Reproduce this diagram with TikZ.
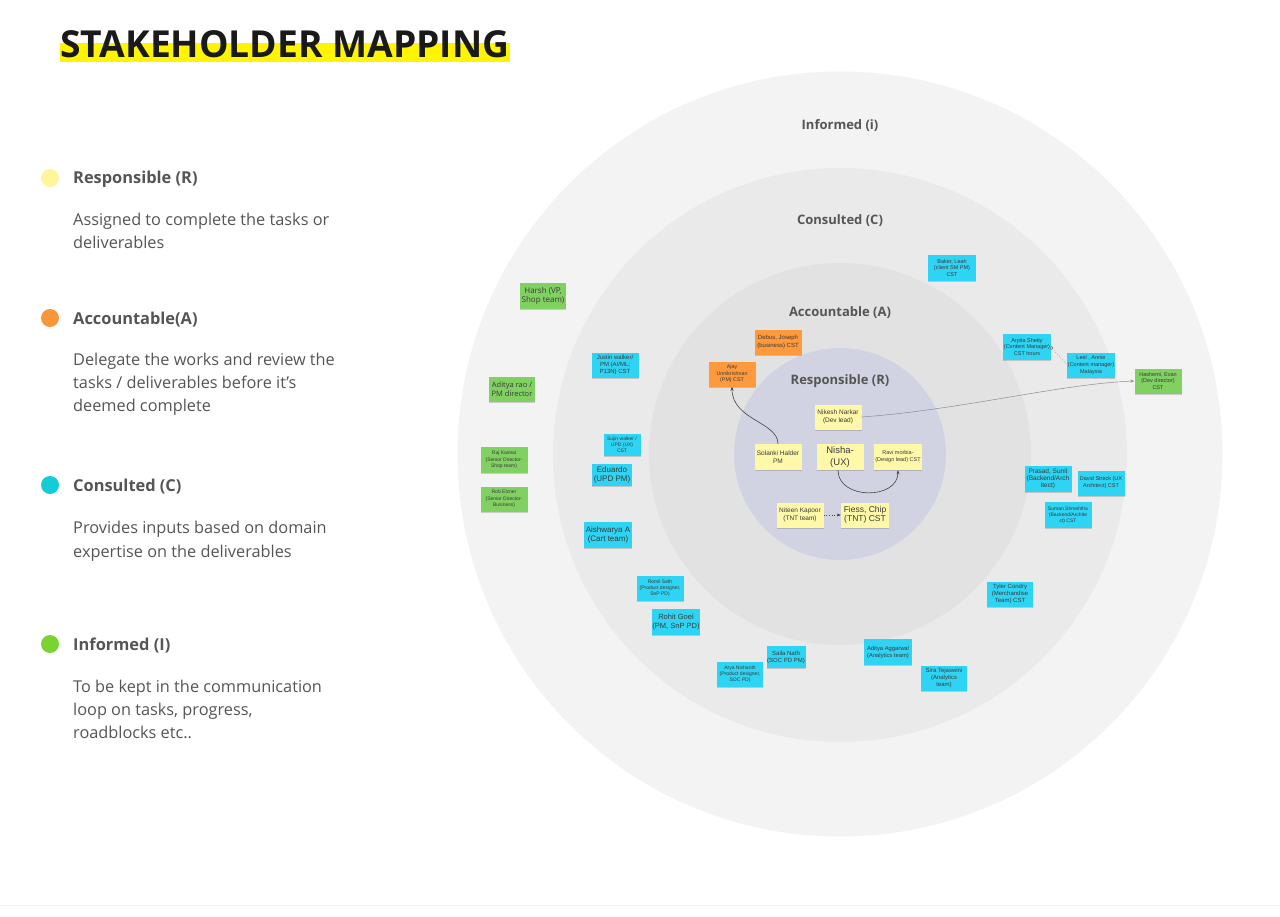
\documentclass[tikz,border=0pt]{standalone}
\usepackage{fontspec}
\setmainfont{Open Sans}
\newfontfamily\stickyfont{Liberation Sans}
\usetikzlibrary{arrows.meta,shadows}
\definecolor{ringI}{HTML}{F3F3F3}
\definecolor{ringC}{HTML}{EAEAEA}
\definecolor{ringA}{HTML}{E2E2E2}
\definecolor{ringR}{HTML}{D2D3E2}
\definecolor{stY}{HTML}{FFF8A8}
\definecolor{stO}{HTML}{FF9A3C}
\definecolor{stC}{HTML}{2ED4F3}
\definecolor{stG}{HTML}{80D162}
\definecolor{dotY}{HTML}{FFF59A}
\definecolor{dotO}{HTML}{F8963A}
\definecolor{dotC}{HTML}{14CCD8}
\definecolor{dotG}{HTML}{7AD233}
\definecolor{legtext}{HTML}{555555}
\definecolor{stickytext}{HTML}{3A3A3A}
\definecolor{titleyellow}{HTML}{FFF500}
\definecolor{titletext}{HTML}{1A1A1A}
\definecolor{connc}{HTML}{444444}
\begin{document}
\begin{tikzpicture}[x=1pt,y=-1pt,
  sticky/.style={rectangle, inner sep=0.5pt, align=center, text=stickytext,
    minimum width=47, minimum height=26,
    drop shadow={shadow xshift=0pt, shadow yshift=-1.3pt, opacity=0.16, fill=black}},
  ys/.style={sticky, fill=stY},
  os/.style={sticky, fill=stO},
  cs/.style={sticky, fill=stC},
  gs/.style={sticky, fill=stG},
  fs/.style 2 args={font=\stickyfont\fontsize{#1}{#2}\selectfont},
  fo/.style 2 args={font=\fontsize{#1}{#2}\selectfont},
  ringlabel/.style={font=\fontsize{13}{15}\selectfont\bfseries, text=legtext, anchor=base, inner sep=0},
  leghead/.style={font=\fontsize{16.4}{19}\selectfont\bfseries, text=legtext, anchor=base west, inner sep=0},
  legbody/.style={font=\fontsize{16.3}{19}\selectfont, text=legtext, anchor=base west, inner sep=0},
  conn/.style={draw=connc, line width=0.6pt, -{Stealth[length=4pt,width=3pt]}},
  lightconn/.style={draw=black!45, line width=0.5pt, -{Stealth[length=4pt,width=3pt]}}
]
\path[use as bounding box] (0,0) rectangle (1280,916);
\fill[white] (0,0) rectangle (1280,916);
\draw[black!5, line width=1pt] (0,905) -- (1280,905);

% title
\fill[titleyellow] (60,43) rectangle (510,62);
\node[anchor=base west, inner sep=0, text=titletext, font=\fontsize{37.2}{40}\selectfont\bfseries] (title) at (60,57) {STAKEHOLDER MAPPING};

% legend
\fill[dotY] (50,178) circle[radius=9pt];
\node[leghead] (hR) at (73,183) {Responsible (R)};
\node[legbody] (bR1) at (73,225) {Assigned to complete the tasks or};
\node[legbody] (bR2) at (73,248) {deliverables};

\fill[dotO] (50,318) circle[radius=9pt];
\node[leghead] (hA) at (73,324) {Accountable(A)};
\node[legbody] (bA1) at (73,365) {Delegate the works and review the};
\node[legbody] (bA2) at (73,388) {tasks / deliverables before it's};
\node[legbody] (bA3) at (73,411) {deemed complete};

\fill[dotC] (50,485) circle[radius=9pt];
\node[leghead] (hC) at (73,491) {Consulted (C)};
\node[legbody] (bC1) at (73,533) {Provides inputs based on domain};
\node[legbody] (bC2) at (73,557) {expertise on the deliverables};

\fill[dotG] (50,644) circle[radius=9pt];
\node[leghead] (hI) at (73,650) {Informed (I)};
\node[legbody] (bI1) at (73,692) {To be kept in the communication};
\node[legbody] (bI2) at (73,715) {loop on tasks, progress,};
\node[legbody] (bI3) at (73,738) {roadblocks etc..};

% rings
\fill[ringI] (840,454) circle[radius=382.5pt];
\fill[ringC] (840,455) circle[radius=287pt];
\fill[ringA] (840,454) circle[radius=191pt];
\fill[ringR] (840,454) circle[radius=106pt];

\node[ringlabel] (lI) at (840,129) {Informed (i)};
\node[ringlabel] (lC) at (840,224) {Consulted (C)};
\node[ringlabel] (lA) at (840,316) {Accountable (A)};
\node[ringlabel] (lR) at (840,384) {Responsible (R)};

% responsible (yellow)
\node[ys, fs={6.5}{8}, minimum height=25] (nikesh) at (838,417) {Nikesh Narkar\\(Dev lead)};
\node[ys, fs={6.5}{8}] (solanki) at (778,457) {Solanki Halder\\PM};
\node[ys, fs={9.5}{11.5}] (nisha) at (840,457) {Nisha-\\(UX)};
\node[ys, fs={5.5}{7}, minimum width=48] (ravi) at (898,457) {Ravi morbia-\\(Design lead) CST};
\node[ys, fs={6.5}{8}, minimum height=25] (niteen) at (800,515) {Niteen Kapoor\\(TNT team)};
\node[ys, fs={8.5}{9.5}, minimum width=48, minimum height=25] (fiess) at (865,515) {Fiess, Chip\\(TNT) CST};

% accountable (orange)
\node[os, fs={6}{7.5}, minimum height=25] (debus) at (778,342) {Debus, Joseph\\(business) CST};
\node[os, fs={5.3}{6.6}, minimum height=25] (ajay) at (732,374) {Ajay\\Unnikrishnan\\(PM) CST};

% consulted (cyan)
\node[cs, fs={5.5}{6.8}, minimum width=48] (baker) at (952,268) {Baker, Leah\\(client SM PM)\\CST};
\node[cs, fs={5.5}{6.8}] (arpita) at (1027,347) {Arpita Shetty\\(Content Manager)\\CST hours};
\node[cs, fs={5.5}{6.8}, minimum width=46, minimum height=25] (leel) at (1091,365) {Leel , Annie\\(Content manager)\\Malaysia};
\node[cs, fs={6}{7}, minimum height=25] (justin) at (615,365) {Justin walker/\\PM (AI/ML;\\P13N) CST};
\node[cs, fs={5}{6}, minimum width=37, minimum height=22] (sujin) at (622,445) {Sujin walker /\\UPD (UX)\\CST};
\node[cs, fs={8}{9.5}, minimum width=40, minimum height=22] (eduardo) at (612,475) {Eduardo\\(UPD PM)};
\node[cs, fs={8}{9.5}, minimum width=48] (aish) at (608,535) {Aishwarya A\\(Cart team)};
\node[cs, fs={5}{6.2}, minimum height=25] (romil) at (660,588) {Romil Seth\\(Product designer,\\SnP PD)};
\node[cs, fs={7.5}{9}, minimum width=46] (rohit) at (676,622) {Rohit Goel\\(PM, SnP PD)};
\node[cs, fs={6}{7}, minimum width=39, minimum height=22] (saila) at (786,657) {Saila Nath\\(SOC PD PM)};
\node[cs, fs={5}{6.2}, minimum width=46, minimum height=25] (arya) at (740,674) {Arya Nishanth\\(Product designer,\\SOC PD)};
\node[cs, fs={5.8}{7}, minimum width=48] (aggarwal) at (888,652) {Aditya Aggarwal\\(Analytics team)};
\node[cs, fs={6}{7}, minimum width=46, minimum height=25] (sira) at (944,678) {Sira Tejaswini\\(Analytics\\team)};
\node[cs, fs={6}{7}, minimum width=46, minimum height=25] (tyler) at (1010,594) {Tyler Condry\\(Merchandise\\Team) CST};
\node[cs, fs={6.5}{7.2}] (prasad) at (1048,479) {Prasad, Sunit\\(Backend/Arch\\itect)};
\node[cs, fs={5.5}{7}, minimum height=25] (david) at (1101,483) {David Streck (UX\\Architect) CST};
\node[cs, fs={5}{6.2}] (suman) at (1068,515) {Suman Shreshtha\\(Backend/Archite\\ct) CST};

% informed (green)
\node[gs, fs={5.5}{6.8}, minimum height=25] (hashemi) at (1158,381) {Hashemi, Evan\\(Dev director)\\CST};
\node[gs, fo={8}{9.5}, minimum width=46] (harsh) at (543,296) {Harsh (VP,\\Shop team)};
\node[gs, fo={7.5}{9.5}, minimum width=46, minimum height=25] (adityarao) at (512,389) {Aditya rao /\\PM director};
\node[gs, fs={5}{6.4}] (raj) at (504,460) {Raj Kaimal\\(Senior Director-\\Shop team)};
\node[gs, fs={5}{6.4}, minimum height=25] (rob) at (504,499) {Rob Elzner\\(Senior Director-\\Business)};

% connectors
\draw[conn] (solanki.north) .. controls (778,422) and (732,420) .. (ajay.south);
\draw[conn] ([xshift=-2pt]nisha.south) .. controls (838,500) and (898,500) .. (ravi.south);
\draw[conn, dotted] (niteen.east) -- (fiess.west);
\draw[lightconn] (nikesh.east) .. controls (960,410) and (1060,384) .. (hashemi.west);
\draw[draw=black!55, line width=0.5pt, dotted, {Square[open,length=2.5pt,width=2.5pt]}-] (arpita.east) -- (leel.west);
\end{tikzpicture}
\end{document}
